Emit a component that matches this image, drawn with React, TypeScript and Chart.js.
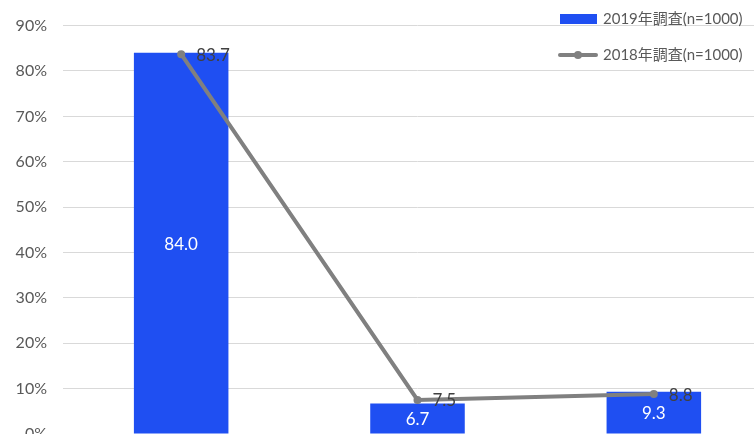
import React, { useEffect, useRef } from "react";
import { Chart, registerables } from "chart.js";

Chart.register(...registerables);

const categories = ["A", "B", "C"];
const series2019 = [84.0, 6.7, 9.3];
const series2018 = [83.7, 7.5, 8.8];
const label2019 = "2019年調査(n=1000)";
const label2018 = "2018年調査(n=1000)";
const yTicksMax = 90;
const yTicksStep = 10;

const BAR = "#1F4FF2";
const LINE = "#808080";
const FONT = "Lato, 'Noto Sans CJK JP', sans-serif";

const W = 790;
const H = 470;

const labelsPlugin = {
  id: "customLabels",
  afterDatasetsDraw(chart: any) {
    const ctx = chart.ctx;
    ctx.save();
    const barMeta = chart.getDatasetMeta(0);
    ctx.font = `17px ${FONT}`;
    ctx.fillStyle = "#ffffff";
    ctx.textAlign = "center";
    ctx.textBaseline = "middle";
    barMeta.data.forEach((el: any, i: number) => {
      const y = (el.y + el.base) / 2;
      ctx.fillText(series2019[i].toFixed(1), el.x, y + 1);
    });
    const lineMeta = chart.getDatasetMeta(1);
    ctx.fillStyle = "#404040";
    ctx.textAlign = "left";
    lineMeta.data.forEach((el: any, i: number) => {
      ctx.fillText(series2018[i].toFixed(1), el.x + 15, el.y + 1);
    });
    ctx.restore();
  },
  afterDraw(chart: any) {
    const ctx = chart.ctx;
    ctx.save();
    ctx.font = `15px ${FONT}`;
    ctx.textAlign = "left";
    ctx.textBaseline = "middle";
    // bar legend
    ctx.fillStyle = BAR;
    ctx.fillRect(560, 14, 37, 10);
    ctx.fillStyle = "#595959";
    ctx.fillText(chart.data.datasets[0].label, 603, 19);
    // line legend
    ctx.strokeStyle = LINE;
    ctx.lineWidth = 4;
    ctx.lineCap = "round";
    ctx.beginPath();
    ctx.moveTo(560, 55);
    ctx.lineTo(596, 55);
    ctx.stroke();
    ctx.fillStyle = LINE;
    ctx.beginPath();
    ctx.arc(578, 55, 4, 0, Math.PI * 2);
    ctx.fill();
    ctx.fillStyle = "#595959";
    ctx.fillText(chart.data.datasets[1].label, 603, 55);
    ctx.restore();
  },
};

export default function App() {
  const ref = useRef<HTMLCanvasElement | null>(null);
  useEffect(() => {
    if (!ref.current) return;
    const chart = new Chart(ref.current, {
      data: {
        labels: categories,
        datasets: [
          {
            type: "bar",
            label: label2019,
            data: series2019,
            backgroundColor: BAR,
            categoryPercentage: 0.4,
            barPercentage: 1,
            order: 1,
          } as any,
          {
            type: "line",
            label: label2018,
            data: series2018,
            borderColor: LINE,
            backgroundColor: LINE,
            borderWidth: 4,
            pointRadius: 4,
            pointBackgroundColor: LINE,
            pointBorderWidth: 0,
            order: 0,
          } as any,
        ],
      },
      options: {
        animation: false,
        responsive: false,
        devicePixelRatio: 1,
        layout: { padding: { left: 0, right: 18, top: 12, bottom: 36 } },
        plugins: {
          legend: { display: false },
          tooltip: { enabled: false },
        },
        scales: {
          x: { display: false, grid: { display: false } },
          y: {
            min: 0,
            max: yTicksMax,
            border: { display: false },
            grid: { color: "#D9D9D9", lineWidth: 1, drawTicks: false },
            afterFit(scale: any) {
              scale.width = 63;
            },
            ticks: {
              stepSize: yTicksStep,
              padding: 16,
              color: "#595959",
              font: { size: 16, family: FONT },
              callback: (v: any) => `${v}%`,
            },
          },
        },
      },
      plugins: [labelsPlugin],
    } as any);
    return () => chart.destroy();
  }, []);
  return (
    <div style={{ position: "fixed", left: 0, top: 0, width: 754, height: 434, overflow: "hidden", background: "#fff" }}>
      <canvas ref={ref} width={W} height={H} style={{ position: "absolute", left: 0, top: 0, width: W, height: H }} />
    </div>
  );
}
